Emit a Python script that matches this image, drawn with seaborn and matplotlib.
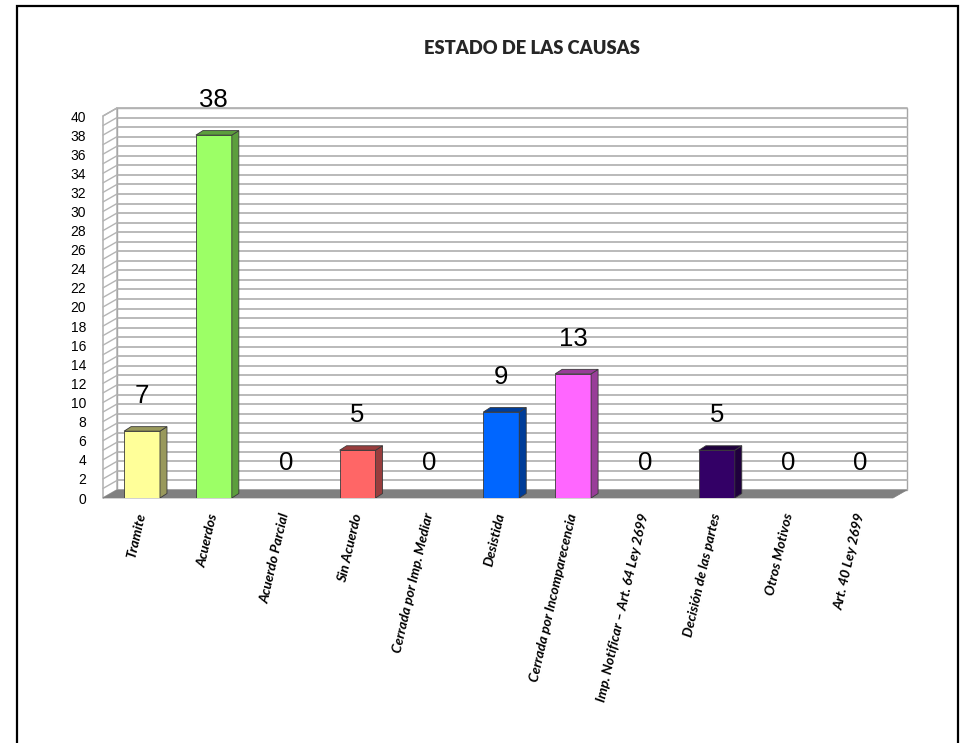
import matplotlib
matplotlib.use('Agg')

import pandas as pd
import matplotlib.pyplot as plt
from matplotlib.patches import Polygon, Rectangle
import seaborn as sns

# --- Datos ---
categorias = ["Tramite", "Acuerdos", "Acuerdo Parcial", "Sin Acuerdo",
              "Cerrada por Imp. Mediar", "Desistida", "Cerrada por Incomparecencia",
              "Imp. Notificar – Art. 64 Ley 2699", "Decisión de las partes",
              "Otros Motivos", "Art. 40 Ley 2699"]
valores = [7, 38, 0, 5, 0, 9, 13, 0, 5, 0, 0]
colores_frente = ["#FFFF99", "#9CFF66", "#993366", "#FF6666", "#CCCCFF", "#0066FF",
                  "#FF66FF", "#00CCFF", "#330066", "#FF9966", "#66CCCC"]
colores_lado = ["#99995C", "#5C9E3D", "#5C1F3D", "#993D3D", "#7A7A99", "#003D99",
                "#993D99", "#007A99", "#1F003D", "#995C3D", "#3D7A7A"]
ticks_y = list(range(0, 41, 2))
titulo = "ESTADO DE LAS CAUSAS"

sns.set_theme(style="white")
plt.rcParams['font.family'] = ['Liberation Sans', 'DejaVu Sans']

fig = plt.figure(figsize=(9.66, 7.43), dpi=100)
ax = fig.add_axes([103 / 966, 1 - 498 / 743, 790 / 966, 382 / 743])

df = pd.DataFrame({"estado": categorias, "cantidad": valores})
sns.barplot(data=df, x="estado", y="cantidad", hue="estado", palette=colores_frente,
            legend=False, width=0.5, saturation=1, edgecolor="#3a3a3a",
            linewidth=0.6, ax=ax)
barras = list(ax.patches)

xl, xr = -0.543, 10.452
ax.set_xlim(xl, xr)
ax.set_ylim(0, 40)
for s in ax.spines.values():
    s.set_visible(False)
ax.set_xlabel("")
ax.set_ylabel("")
ax.grid(False)

# conversion de pixeles a unidades de datos (efecto 3D)
p0 = ax.transData.transform((0, 0))
p1 = ax.transData.transform((1, 1))
sx, sy = p1[0] - p0[0], p1[1] - p0[1]
wdx, wdy = 14 / sx, 8 / sy      # profundidad de paredes
bdx, bdy = 7 / sx, 4.5 / sy     # profundidad de barras

# pared del fondo con lineas cada unidad
ax.add_patch(Rectangle((xl + wdx, wdy), xr - xl, 40, facecolor="white",
                       edgecolor="#a6a6a6", lw=1.0, zorder=0.1, clip_on=False))
for v in range(0, 41):
    ax.plot([xl + wdx, xr + wdx], [v + wdy, v + wdy], color="#b4b4b4", lw=1.3,
            zorder=0.2, clip_on=False)

# pared izquierda
ax.add_patch(Polygon([(xl, 0), (xl + wdx, wdy), (xl + wdx, 40 + wdy), (xl, 40)],
                     facecolor="white", edgecolor="#a6a6a6", lw=1.0, zorder=0.3,
                     clip_on=False))
for v in range(0, 41):
    ax.plot([xl, xl + wdx], [v, v + wdy], color="#b4b4b4", lw=1.0, zorder=0.35,
            clip_on=False)

# piso
ax.add_patch(Polygon([(xl, 0), (xr, 0), (xr + wdx, wdy), (xl + wdx, wdy)],
                     facecolor="#808080", edgecolor="#808080", lw=0.5, zorder=0.5,
                     clip_on=False))

# caras laterales y superiores de las barras
for p in barras:
    h = p.get_height()
    x0, w = p.get_x(), p.get_width()
    i = int(round(x0 + w / 2))
    p.set_zorder(2)
    if h <= 0:
        p.set_visible(False)
        continue
    lado = [(x0 + w, 0), (x0 + w, h), (x0 + w + bdx, h + bdy), (x0 + w + bdx, bdy)]
    tapa = [(x0, h), (x0 + w, h), (x0 + w + bdx, h + bdy), (x0 + bdx, h + bdy)]
    ax.add_patch(Polygon(lado, facecolor=colores_lado[i], edgecolor="#3a3a3a",
                         lw=0.6, zorder=2))
    ax.add_patch(Polygon(tapa, facecolor=colores_lado[i], edgecolor="#3a3a3a",
                         lw=0.6, zorder=2))

# etiquetas de valor
for i, v in enumerate(valores):
    ax.text(i, v + 3.7, str(v), ha="center", va="center", fontsize=18.5,
            color="black", zorder=3)

ax.set_yticks(ticks_y)
ax.tick_params(axis='y', length=0, pad=12, labelsize=10, colors="black")
ax.set_xticks(range(len(categorias)))
ax.set_xticklabels(categorias, rotation=77, ha="right", va="center",
                   rotation_mode="anchor", fontstyle="italic", fontweight="bold",
                   fontfamily=["Lato", "DejaVu Sans"], fontsize=10)
ax.tick_params(axis='x', length=0, pad=11, colors="black")

fig.text(532 / 966, 1 - 48 / 743, titulo, ha="center", va="center",
         fontweight="heavy", fontsize=13.2, family=["Lato", "DejaVu Sans"])

# marco del grafico
fig.add_artist(Rectangle((17 / 966, -0.05), (958 - 17) / 966, (743 - 6) / 743 + 0.05,
                         transform=fig.transFigure, fill=False, edgecolor="black",
                         lw=1.6))

fig.savefig("out.png", dpi=100)
plt.close(fig)
